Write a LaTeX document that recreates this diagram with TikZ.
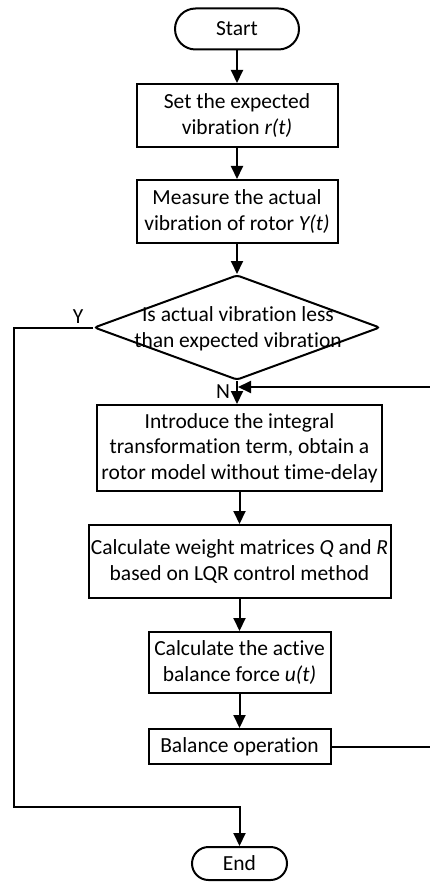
\documentclass[tikz,border=0pt]{standalone}
\usepackage{fontspec}
\setmainfont{Carlito}[Ligatures=NoCommon]
\usetikzlibrary{shapes.geometric,shapes.misc,arrows.meta}
\newcommand\flowfont{\fontsize{21.5}{25.5}\selectfont}
\tikzset{
  box/.style={draw, rectangle, align=center, inner sep=0pt, font=\flowfont},
  term/.style={draw, rounded rectangle, inner sep=0pt, font=\flowfont},
  arr/.style={-{Triangle[length=13pt,width=12pt]}}
}
\begin{document}
\begin{tikzpicture}[x=1pt, y=-1pt, line width=2pt]
        \useasboundingbox (0,0) rectangle (430,882);
        % Blocchi principali
        \node[term, minimum width=124pt, minimum height=41pt] (start) at (237,29) {Start};
        \node[box, minimum width=201pt, minimum height=63pt] (set) at (237,115.5) {Set the expected\\vibration \textit{r(t)}};
        \node[box, minimum width=201pt, minimum height=63pt] (meas) at (237,211.5) {Measure the actual\\vibration of rotor \textit{Y(t)}};
        \node[draw, diamond, minimum width=286pt, minimum height=105pt, inner sep=0pt, rounded corners=3pt] (dec) at (237,327.5) {};
        \node[align=center, font=\flowfont, inner sep=0pt] (dectext) at (238,329) {Is actual vibration less\\than expected vibration};
        \node[box, minimum width=285pt, minimum height=86pt] (intro) at (239.5,448) {Introduce the integral\\transformation term, obtain a\\rotor model without time-delay};
        \node[box, minimum width=302pt, minimum height=73pt] (calc) at (239.5,561.5) {Calculate weight matrices \textit{Q} and \textit{R}\\based on LQR control method};
        \node[box, minimum width=182pt, minimum height=61pt] (force) at (239.5,662.5) {Calculate the active\\balance force \textit{u(t)}};
        \node[box, minimum width=182pt, minimum height=35pt] (bal) at (239.5,746.5) {Balance operation};
        \node[term, minimum width=95pt, minimum height=33pt] (stop) at (239.5,863.5) {End};
        % Etichette
        \node[font=\flowfont, inner sep=0pt] (ylab) at (78,317) {Y};
        \node[font=\flowfont, inner sep=0pt] (nlab) at (223,392) {N};
        % Punti di piegatura
        \coordinate (fbr) at (431.5,387);
        \coordinate (ybot) at (14,807);
        % Frecce
        \draw[arr] (start) -- (set);
        \draw[arr] (set) -- (meas);
        \draw[arr] (meas) -- (dec);
        \draw[arr] (dec.south) -- (dec.south |- intro.north);
        \draw[arr] (intro.south) -- (calc.north);
        \draw[arr] (calc) -- (force);
        \draw[arr] (force) -- (bal);
        \draw[arr] (bal.east) -- (bal.east -| fbr) -- (fbr) -- ([xshift=1pt]fbr -| dec.south);
        \draw[arr] (dec.west) -- (dec.west -| ybot) -- (ybot) -- (ybot -| stop.north) -- (stop.north);
\end{tikzpicture}
\end{document}
